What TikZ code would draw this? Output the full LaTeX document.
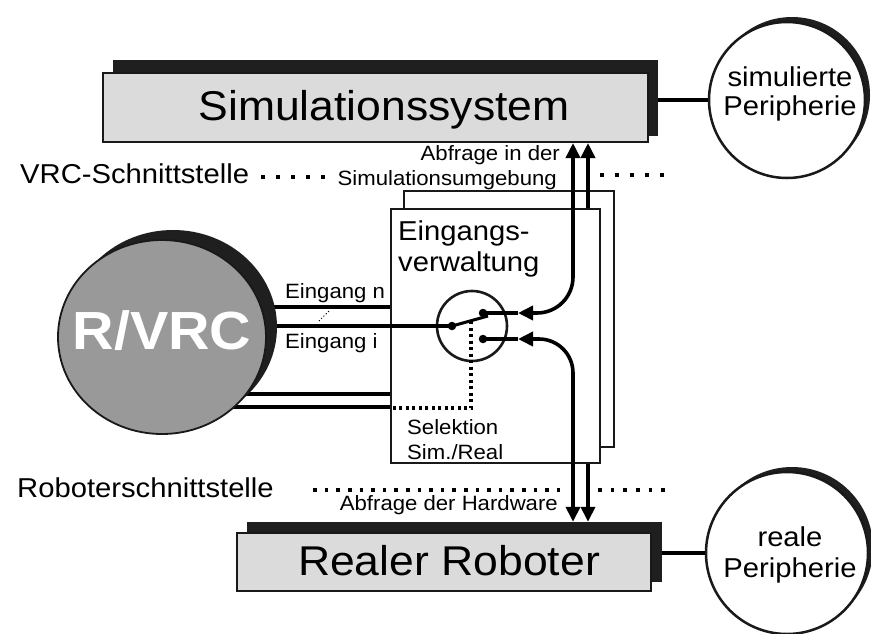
\documentclass[tikz,border=0pt]{standalone}
\usepackage{fontspec}
\setmainfont{Liberation Sans}[FakeStretch=1.07]
\usetikzlibrary{arrows.meta,shapes.geometric}
\tikzset{tri/.tip={Triangle[length=15pt,width=14pt]}}
\begin{document}
\begin{tikzpicture}[x=1pt,y=-1pt,
  lw/.style={line width=3.6pt},
  boxst/.style={draw=black!90, line width=2pt, fill=black!14, inner sep=0pt},
  shadowst/.style={fill=black!88, inner sep=0pt},
  txt/.style={inner sep=0pt, text depth=0pt},
  bigfont/.style={font=\fontsize{41.6}{48}\selectfont, text height=30pt},
  midfont/.style={font=\fontsize{27.3}{32}\selectfont, text height=19.7pt},
  smallfont/.style={font=\fontsize{20.7}{25}\selectfont, text height=14.9pt},
  ifdots/.style={line width=3.5pt, dash pattern=on 3.5pt off 11.5pt},
  rbdots/.style={line width=3.5pt, dash pattern=on 3.5pt off 8.1pt},
  rbdotsb/.style={line width=3.5pt, dash pattern=on 3.5pt off 9.1pt},
  seldots/.style={line width=3.5pt, dash pattern=on 3pt off 3.5pt},
  condot/.style={circle, fill=black, inner sep=0pt, minimum size=8.5pt},
  peri/.style={circle, draw=black!90, line width=2.5pt, fill=white, minimum size=#1, inner sep=0pt},
  perish/.style={circle, fill=black!88, minimum size=#1, inner sep=0pt},
]
\useasboundingbox (0,0) rectangle (871,633);
\fill[white] (0,0) rectangle (871,633);

% Simulationssystem
\node[shadowst, minimum width=545pt, minimum height=76pt] (simsh) at (385.5,98) {};
\node[boxst, minimum width=545pt, minimum height=69pt] (sim) at (375.5,107.5) {};
\node[txt, bigfont] (simt) at (384,105) {Simulationssystem};

% Realer Roboter
\node[shadowst, minimum width=415pt, minimum height=60pt] (rsh) at (454.5,552) {};
\node[boxst, minimum width=414pt, minimum height=58pt] (rob) at (444,562) {};
\node[txt, bigfont] (robt) at (449,560) {Realer Roboter};

% Peripherie circles
\node[perish=156pt] (spsh) at (792,95) {};
\node[peri=156pt] (sp) at (787,100) {};
\node[txt, midfont] (spt1) at (790,77) {simulierte};
\node[txt, midfont] (spt2) at (790,106) {Peripherie};
\node[perish=162pt] (rpsh) at (792,548) {};
\node[peri=162pt] (rp) at (787,553) {};
\node[txt, midfont] (rpt1) at (790,537) {reale};
\node[txt, midfont] (rpt2) at (790,568) {Peripherie};

\draw[lw] (sp.west) -- (sp.west -| simsh.east);
\draw[lw] (rp.west) -- (rp.west -| rsh.east);

% Eingangsverwaltung
\node[draw=black!90, line width=2.5pt, fill=white, minimum width=210pt, minimum height=256pt, inner sep=0pt] (back) at (509,319) {};
\node[draw=black!90, line width=2.5pt, fill=white, minimum width=209pt, minimum height=254pt, inner sep=0pt] (front) at (495.5,336) {};
\node[txt, midfont, anchor=west] (ev1) at (398,231) {Eingangs-};
\node[txt, midfont, anchor=west] (ev2) at (398,262) {verwaltung};
\node[txt, smallfont, anchor=west] (sel1) at (407,427) {Selektion};
\node[txt, smallfont, anchor=west] (sel2) at (407,452) {Sim./Real};

% switch
\node[circle, draw=black!90, line width=2.6pt, minimum size=70pt, inner sep=0pt] (sw) at (472,326) {};
\node[condot] (piv) at (452,326) {};
\node[condot] (cu) at (483,313) {};
\node[condot] (cl) at (483,339) {};
\coordinate (armend) at (488,316);
\draw[line width=3pt] (piv.center) -- (armend);
\coordinate (armmid) at (471,321);
\draw[seldots] (armmid) |- (front.west |- 0,408);

% inputs from R/VRC
\coordinate (rv) at (162,337);
\draw[lw] (rv |- 0,307) -- (front.west |- 0,307);
\draw[lw] (rv |- piv) -- (piv.center);
\draw[lw] (rv |- 0,394) -- (front.west |- 0,394);
\draw[lw] (rv |- 0,407) -- (front.west |- 0,407);
\draw[line width=1pt, dash pattern=on 1.2pt off 2pt] (319,321) -- (329,311);
\node[txt, smallfont, anchor=west] (ein) at (285,291) {Eingang n};
\node[txt, smallfont, anchor=west] (eii) at (285,341) {Eingang i};

% R/VRC
\node[ellipse, fill=black!88, minimum width=208pt, minimum height=194pt, inner sep=0pt] (rvsh) at ([shift={(11,-10)}]rv) {};
\node[ellipse, draw=black!90, line width=1.8pt, fill=black!40, minimum width=208pt, minimum height=194pt, inner sep=0pt] (rvrc) at (rv) {};
\node[txt, text=white, text height=38.7pt, font=\bfseries\fontsize{53.7}{60}\selectfont] (rvt) at (162,330) {R/VRC};

% arrows
\coordinate (tipU) at (518,313);
\coordinate (tipL) at (518,339);
\draw[lw] (cu.center) -- (tipU);
\draw[lw] (cl.center) -- (tipL);
\draw[lw, rounded corners=36pt, {tri}-{tri}] (sim.south -| 573,0) |- (tipU);
\draw[lw, rounded corners=34pt, {tri}-{tri}] (tipL) -| (rsh.north -| 573,0);
\draw[lw, -{tri}] (front.north -| 588,0) -- (sim.south -| 588,0);
\draw[lw, -{tri}] (front.south -| 588,0) -- (rsh.north -| 588,0);

% interface labels
\node[txt, midfont, anchor=west] (vrcl) at (20,174) {VRC-Schnittstelle};
\draw[ifdots] (261.25,177) -- (326,177);
\draw[ifdots] (600.25,175) -- (664,175);
\node[txt, smallfont, anchor=east] (abf1) at (560,153) {Abfrage in der};
\node[txt, smallfont, anchor=east] (abf2) at (557,178) {Simulationsumgebung};

\node[txt, midfont, anchor=west] (robl) at (17,488) {Roboterschnittstelle};
\draw[rbdots] (313.25,490) -- (560,490);
\draw[rbdotsb] (598.25,490) -- (665,490);
\node[txt, smallfont, anchor=east] (abf3) at (558,503) {Abfrage der Hardware};
\end{tikzpicture}
\end{document}
